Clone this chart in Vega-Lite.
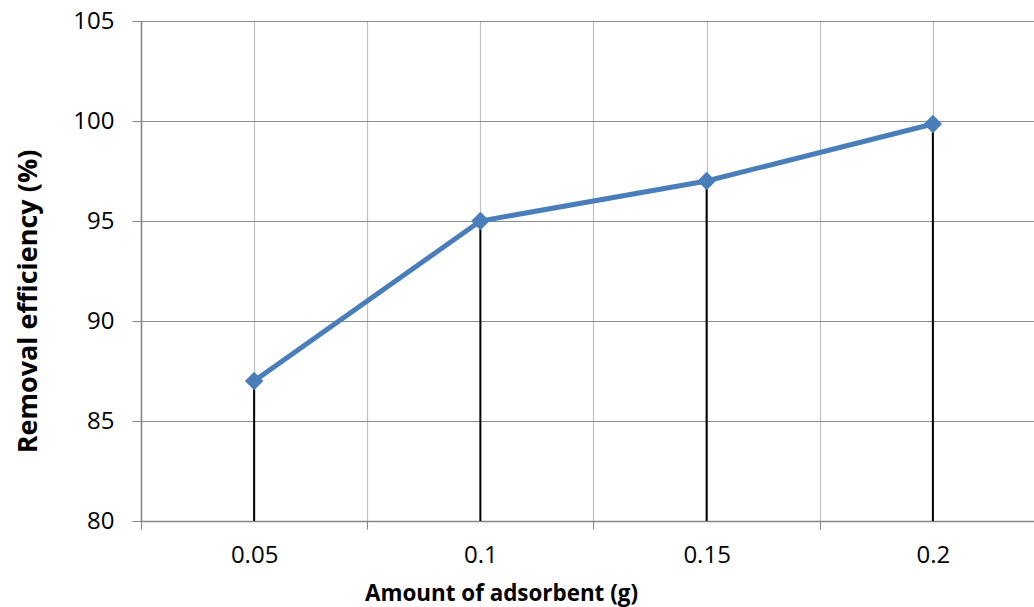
{
  "$schema": "https://vega.github.io/schema/vega-lite/v6.json",
  "width": 893,
  "height": 500,
  "autosize": {"type": "none"},
  "padding": {"left": 141, "top": 21, "right": 0, "bottom": 86},
  "background": "white",
  "config": {"view": {"stroke": null}, "font": "Open Sans"},
  "data": {"values": [
    {"amount": 0.05, "efficiency": 87},
    {"amount": 0.1, "efficiency": 95},
    {"amount": 0.15, "efficiency": 97},
    {"amount": 0.2, "efficiency": 99.85}
  ]},
  "encoding": {
    "x": {
      "field": "amount",
      "type": "quantitative",
      "scale": {"domain": [0.025, 0.22235], "nice": false, "zero": false},
      "axis": {
        "values": [0.025, 0.05, 0.075, 0.1, 0.125, 0.15, 0.175, 0.2],
        "format": "~g",
        "labelExpr": "round(datum.value * 40) % 2 == 0 ? datum.label : ''",
        "labelOverlap": false,
        "labelFlush": false,
        "labelFontSize": 24,
        "labelColor": "black",
        "labelPadding": 14,
        "tickSize": 8,
        "tickColor": {"condition": {"test": "round(datum.value * 40) % 2 == 0", "value": "transparent"}, "value": "#868686"},
        "domainColor": "#868686",
        "domainWidth": 1.5,
        "grid": true,
        "gridColor": "#c0c0c0",
        "gridWidth": 1.2,
        "title": "Amount of adsorbent (g)",
        "titleFontSize": 22.4,
        "titleFontWeight": "bold",
        "titleColor": "black",
        "titleX": 360,
        "titleY": 72,
        "titleBaseline": "middle",
        "titleAlign": "center"
      }
    },
    "y": {
      "field": "efficiency",
      "type": "quantitative",
      "scale": {"domain": [80, 105], "nice": false, "zero": false},
      "axis": {
        "values": [80, 85, 90, 95, 100, 105],
        "labelFontSize": 24,
        "labelColor": "black",
        "labelPadding": 18,
        "tickSize": 9,
        "tickColor": "#868686",
        "domainColor": "#868686",
        "domainWidth": 1.5,
        "grid": true,
        "gridColor": "#8c8c8c",
        "gridWidth": 1.2,
        "title": "Removal efficiency (%)",
        "titleFontSize": 27,
        "titleFontWeight": "bold",
        "titleColor": "black",
        "titleX": -113,
        "titleY": 280,
        "titleAngle": -90,
        "titleBaseline": "middle",
        "titleAlign": "center"
      }
    }
  },
  "layer": [
    {
      "mark": {"type": "rule", "color": "black", "strokeWidth": 2},
      "encoding": {"y2": {"datum": 80}}
    },
    {
      "mark": {"type": "line", "color": "#4A7EBB", "strokeWidth": 5}
    },
    {
      "mark": {"type": "point", "shape": "diamond", "filled": true, "size": 340, "color": "#4A7EBB", "opacity": 1}
    }
  ]
}
